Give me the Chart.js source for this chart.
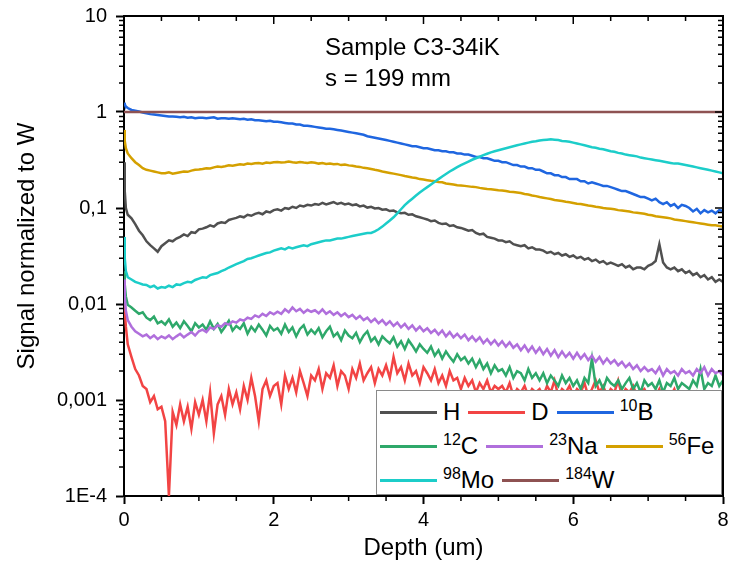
<!DOCTYPE html>
<html>
<head>
<meta charset="utf-8">
<script src="https://cdn.jsdelivr.net/npm/chart.js@4.4.0/dist/chart.umd.min.js"></script>
<style>
  body { margin: 0; background: #fff; }
  #wrap { position: relative; width: 729px; height: 576px; font-family: "Liberation Sans", Arial, sans-serif; color: #000; }
  #note { position: absolute; left: 325px; top: 31px; font-size: 24px; line-height: 31px; }
  #legend { position: absolute; left: 376px; top: 390px; width: 346px; height: 105px; box-sizing: border-box;
            border: 1px solid #8a8a8a; background: #fff; padding: 4px 0 0 3px; font-size: 24px; }
  .row { display: flex; align-items: center; height: 34px; }
  .item { display: flex; align-items: center; margin-right: 8px; white-space: nowrap; }
  .swatch { width: 57px; height: 0; border-top: 3px solid; margin-right: 6px; }
  sup { font-size: 16px; vertical-align: 9px; line-height: 0; }
</style>
</head>
<body>
<div id="wrap">
  <canvas id="chart" width="729" height="576"></canvas>
  <div id="note">Sample C3-34iK<br>s = 199 mm</div>
  <div id="legend"></div>
</div>
<script>
// depth grid (um)
const depth = [0, 0.01, 0.025, 0.05,
  0.1, 0.15, 0.2, 0.25, 0.3, 0.35, 0.4, 0.45, 0.5,
  0.55, 0.6, 0.65, 0.7, 0.75, 0.8, 0.85, 0.9, 0.95, 1,
  1.05, 1.1, 1.15, 1.2, 1.25, 1.3, 1.35, 1.4, 1.45, 1.5,
  1.55, 1.6, 1.65, 1.7, 1.75, 1.8, 1.85, 1.9, 1.95, 2,
  2.05, 2.1, 2.15, 2.2, 2.25, 2.3, 2.35, 2.4, 2.45, 2.5,
  2.55, 2.6, 2.65, 2.7, 2.75, 2.8, 2.85, 2.9, 2.95, 3,
  3.05, 3.1, 3.15, 3.2, 3.25, 3.3, 3.35, 3.4, 3.45, 3.5,
  3.55, 3.6, 3.65, 3.7, 3.75, 3.8, 3.85, 3.9, 3.95, 4,
  4.05, 4.1, 4.15, 4.2, 4.25, 4.3, 4.35, 4.4, 4.45, 4.5,
  4.55, 4.6, 4.65, 4.7, 4.75, 4.8, 4.85, 4.9, 4.95, 5,
  5.05, 5.1, 5.15, 5.2, 5.25, 5.3, 5.35, 5.4, 5.45, 5.5,
  5.55, 5.6, 5.65, 5.7, 5.75, 5.8, 5.85, 5.9, 5.95, 6,
  6.05, 6.1, 6.15, 6.2, 6.25, 6.3, 6.35, 6.4, 6.45, 6.5,
  6.55, 6.6, 6.65, 6.7, 6.75, 6.8, 6.85, 6.9, 6.95, 7,
  7.05, 7.1, 7.15, 7.2, 7.25, 7.3, 7.35, 7.4, 7.45, 7.5,
  7.55, 7.6, 7.65, 7.7, 7.75, 7.8, 7.85, 7.9, 7.95, 8];

const hValues = [0.3, 0.15, 0.1, 0.085,
  0.078, 0.068, 0.058, 0.052, 0.045, 0.041, 0.038, 0.035, 0.04,
  0.043, 0.046, 0.045, 0.048, 0.05, 0.053, 0.051, 0.056, 0.055, 0.06,
  0.061, 0.063, 0.066, 0.064, 0.069, 0.071, 0.07, 0.075, 0.077, 0.079,
  0.082, 0.08, 0.085, 0.083, 0.087, 0.089, 0.086, 0.092, 0.09, 0.095,
  0.097, 0.094, 0.1, 0.098, 0.103, 0.1, 0.106, 0.104, 0.108, 0.106,
  0.11, 0.108, 0.113, 0.109, 0.112, 0.115, 0.11, 0.113, 0.109, 0.111,
  0.107, 0.109, 0.104, 0.106, 0.101, 0.103, 0.099, 0.1, 0.096, 0.097,
  0.093, 0.094, 0.09, 0.088, 0.089, 0.085, 0.086, 0.082, 0.08, 0.078,
  0.076, 0.073, 0.074, 0.07, 0.068, 0.069, 0.065, 0.066, 0.063, 0.062,
  0.06, 0.058, 0.059, 0.055, 0.053, 0.054, 0.05, 0.049, 0.048, 0.046,
  0.046, 0.044, 0.045, 0.042, 0.041, 0.04, 0.041, 0.038, 0.039, 0.037,
  0.037, 0.036, 0.034, 0.035, 0.033, 0.034, 0.032, 0.033, 0.031, 0.032,
  0.03, 0.031, 0.029, 0.03, 0.028, 0.029, 0.027, 0.028, 0.026, 0.027,
  0.026, 0.025, 0.026, 0.024, 0.025, 0.023, 0.024, 0.024, 0.023, 0.025,
  0.026, 0.028, 0.042, 0.027, 0.024, 0.023, 0.024, 0.022, 0.023, 0.021,
  0.022, 0.02, 0.021, 0.019, 0.02, 0.018, 0.019, 0.017, 0.018, 0.017];

const dValues = [0.012, 0.0085, 0.0058, 0.0038,
  0.0028, 0.0021, 0.0018, 0.0014, 0.0013, 0.00095, 0.0011, 0.0008, 0.00085,
  0.0006, 0.0001, 0.00075, 0.00055, 0.0009, 0.0006, 0.00085, 0.0005, 0.00095, 0.0007,
  0.001, 0.0006, 0.0012, 0.00045, 0.0009, 0.0011, 0.0007, 0.0013, 0.0009, 0.0012,
  0.0008, 0.0014, 0.001, 0.0017, 0.0011, 0.0006, 0.0013, 0.0016, 0.0011, 0.0014,
  0.0015, 0.0009, 0.0018, 0.0013, 0.0017, 0.0012, 0.002, 0.0015, 0.0011, 0.0018,
  0.0016, 0.0021, 0.0013, 0.0019, 0.0017, 0.0023, 0.0014, 0.002, 0.0018, 0.0013,
  0.0021, 0.0017, 0.0024, 0.0016, 0.0019, 0.0022, 0.0015, 0.0021, 0.0018, 0.0023,
  0.0017, 0.0028, 0.0019, 0.0022, 0.0016, 0.0024, 0.0018, 0.002, 0.0015, 0.0022,
  0.0019, 0.0016, 0.0021, 0.0015, 0.0018, 0.0014, 0.002, 0.0016, 0.0017, 0.0013,
  0.0017, 0.0014, 0.0016, 0.0012, 0.0015, 0.0013, 0.0016, 0.0012, 0.0014, 0.0013,
  0.0014, 0.0012, 0.0015, 0.0011, 0.0013, 0.0012, 0.0014, 0.0011, 0.0013, 0.0012,
  0.0013, 0.0011, 0.0014, 0.0012, 0.0016, 0.0011, 0.0013, 0.0012, 0.0014, 0.0011,
  0.0013, 0.0012, 0.0015, 0.0011, 0.0013, 0.0016, 0.0012, 0.0014, 0.0011, 0.0013,
  0.0012, 0.0016, 0.0011, 0.0013, 0.0012, 0.0014, 0.0011, 0.0012, 0.0013, 0.0011,
  0.0012, 0.0011, 0.0013, 0.001, 0.0012, 0.0011, 0.0013, 0.001, 0.0012, 0.0011,
  0.0011, 0.001, 0.0012, 0.001, 0.0011, 0.0009, 0.0011, 0.001, 0.0011, 0.001];

const bValues = [1.25, 1.2, 1.14, 1.1,
  1.05, 1.03, 1.01, 0.99, 0.97, 0.95, 0.94, 0.93, 0.92,
  0.91, 0.9, 0.9, 0.89, 0.88, 0.89, 0.87, 0.88, 0.86, 0.87,
  0.87, 0.86, 0.87, 0.88, 0.85, 0.86, 0.86, 0.85, 0.86, 0.85,
  0.84, 0.85, 0.83, 0.84, 0.82, 0.82, 0.81, 0.8, 0.81, 0.79,
  0.79, 0.78, 0.77, 0.76, 0.76, 0.74, 0.74, 0.72, 0.72, 0.71,
  0.7, 0.69, 0.68, 0.67, 0.67, 0.66, 0.65, 0.64, 0.63, 0.62,
  0.61, 0.6, 0.59, 0.58, 0.56, 0.55, 0.54, 0.53, 0.52, 0.51,
  0.5, 0.49, 0.48, 0.47, 0.46, 0.45, 0.44, 0.44, 0.43, 0.42,
  0.42, 0.41, 0.4, 0.4, 0.39, 0.39, 0.38, 0.38, 0.37, 0.37,
  0.36, 0.36, 0.35, 0.34, 0.34, 0.33, 0.33, 0.32, 0.31, 0.31,
  0.3, 0.3, 0.29, 0.28, 0.28, 0.27, 0.27, 0.26, 0.26, 0.25,
  0.25, 0.24, 0.23, 0.23, 0.22, 0.22, 0.21, 0.21, 0.2, 0.2,
  0.2, 0.19, 0.19, 0.18, 0.185, 0.18, 0.175, 0.17, 0.17, 0.165,
  0.16, 0.155, 0.15, 0.15, 0.145, 0.14, 0.135, 0.13, 0.13, 0.125,
  0.12, 0.125, 0.115, 0.11, 0.115, 0.105, 0.11, 0.1, 0.108, 0.105,
  0.1, 0.092, 0.098, 0.088, 0.095, 0.09, 0.094, 0.088, 0.095, 0.093];

const cValues = [0.022, 0.016, 0.012, 0.0098,
  0.0092, 0.0085, 0.0079, 0.0082, 0.0072, 0.0068, 0.0074, 0.0063, 0.0066,
  0.0061, 0.0069, 0.0058, 0.0064, 0.0056, 0.0066, 0.0059, 0.0052, 0.0063, 0.0057,
  0.0061, 0.0054, 0.0066, 0.0055, 0.0062, 0.0051, 0.0058, 0.0067, 0.0053, 0.0059,
  0.0055, 0.0063, 0.0049, 0.0058, 0.0052, 0.0061, 0.0054, 0.0047, 0.0059, 0.0053,
  0.0056, 0.0049, 0.0061, 0.0051, 0.0057, 0.0046, 0.0055, 0.006, 0.0048, 0.0054,
  0.0049, 0.0056, 0.0045, 0.0052, 0.0058, 0.0046, 0.005, 0.0042, 0.0053, 0.0047,
  0.0044, 0.005, 0.004, 0.0047, 0.0052, 0.0041, 0.0045, 0.0038, 0.0046, 0.0042,
  0.0039, 0.0045, 0.0036, 0.0041, 0.0034, 0.0042, 0.0037, 0.0032, 0.0038, 0.0034,
  0.0031, 0.0036, 0.0029, 0.0033, 0.0027, 0.0032, 0.0028, 0.0025, 0.003, 0.0026,
  0.0028, 0.0024, 0.0027, 0.0022, 0.0026, 0.0021, 0.0024, 0.0019, 0.0023, 0.002,
  0.0021, 0.0018, 0.0022, 0.0017, 0.002, 0.0019, 0.0016, 0.0021, 0.0017, 0.0019,
  0.0016, 0.0019, 0.0015, 0.0018, 0.0016, 0.0014, 0.0018, 0.0015, 0.0017, 0.0014,
  0.0016, 0.0013, 0.0017, 0.0015, 0.0027, 0.0014, 0.0016, 0.0013, 0.0017, 0.0015,
  0.0014, 0.0016, 0.0013, 0.0015, 0.0017, 0.0013, 0.0015, 0.0012, 0.0016, 0.0014,
  0.0015, 0.0013, 0.0016, 0.0012, 0.0015, 0.0014, 0.0017, 0.0013, 0.0015, 0.0014,
  0.0013, 0.0016, 0.0014, 0.0021, 0.0013, 0.0015, 0.0014, 0.0018, 0.0014, 0.0016];

const naValues = [0.018, 0.012, 0.0085, 0.0068,
  0.0058, 0.0052, 0.0049, 0.0046, 0.0048, 0.0044, 0.0047, 0.0043, 0.0046,
  0.0044, 0.0047, 0.0043, 0.0046, 0.0049, 0.0045, 0.0048, 0.0051, 0.0047, 0.0052,
  0.0054, 0.0051, 0.0057, 0.0055, 0.006, 0.0058, 0.0063, 0.0061, 0.0066, 0.0064,
  0.0069, 0.0067, 0.0072, 0.007, 0.0076, 0.0073, 0.0079, 0.0075, 0.0082, 0.0078,
  0.0083, 0.0079, 0.0088, 0.0082, 0.0092, 0.0084, 0.0089, 0.0081, 0.0087, 0.0083,
  0.0086, 0.008, 0.0088, 0.0079, 0.0084, 0.0077, 0.0082, 0.0075, 0.008, 0.0073,
  0.0077, 0.007, 0.0075, 0.0068, 0.0072, 0.0065, 0.007, 0.0063, 0.0068, 0.0061,
  0.0066, 0.0059, 0.0064, 0.0057, 0.0062, 0.0055, 0.006, 0.0053, 0.0058, 0.0052,
  0.0056, 0.005, 0.0054, 0.0048, 0.0053, 0.0046, 0.0051, 0.0045, 0.0049, 0.0044,
  0.0048, 0.0042, 0.0046, 0.0041, 0.0045, 0.0039, 0.0043, 0.0038, 0.0042, 0.0037,
  0.0041, 0.0036, 0.004, 0.0035, 0.0038, 0.0033, 0.0037, 0.0032, 0.0036, 0.0031,
  0.0035, 0.003, 0.0034, 0.0029, 0.0033, 0.0028, 0.0032, 0.0028, 0.0031, 0.0027,
  0.0031, 0.0027, 0.003, 0.0026, 0.0029, 0.0025, 0.0028, 0.0024, 0.0027, 0.0024,
  0.0026, 0.0023, 0.0025, 0.0022, 0.0024, 0.0021, 0.0023, 0.002, 0.0022, 0.002,
  0.0021, 0.0019, 0.0022, 0.0018, 0.0021, 0.0019, 0.002, 0.0018, 0.0021, 0.0019,
  0.002, 0.0018, 0.0021, 0.0019, 0.0022, 0.0018, 0.0021, 0.0019, 0.002, 0.0018];

const feValues = [0.65, 0.5, 0.42, 0.37,
  0.33, 0.3, 0.28, 0.26, 0.25, 0.245, 0.24, 0.235, 0.23,
  0.23, 0.235, 0.228, 0.232, 0.236, 0.24, 0.238, 0.245, 0.25, 0.252,
  0.255, 0.26, 0.258, 0.265, 0.27, 0.268, 0.272, 0.278, 0.275, 0.28,
  0.285, 0.282, 0.29, 0.288, 0.292, 0.295, 0.29, 0.298, 0.295, 0.3,
  0.302, 0.298, 0.3, 0.305, 0.3, 0.296, 0.302, 0.298, 0.295, 0.3,
  0.296, 0.29, 0.294, 0.288, 0.29, 0.285, 0.288, 0.28, 0.284, 0.278,
  0.276, 0.27, 0.268, 0.262, 0.26, 0.255, 0.25, 0.246, 0.24, 0.236,
  0.232, 0.228, 0.224, 0.22, 0.215, 0.212, 0.208, 0.205, 0.2, 0.198,
  0.195, 0.192, 0.19, 0.186, 0.185, 0.18, 0.178, 0.176, 0.173, 0.172,
  0.17, 0.168, 0.166, 0.165, 0.162, 0.16, 0.158, 0.157, 0.155, 0.153,
  0.152, 0.15, 0.148, 0.147, 0.145, 0.143, 0.14, 0.138, 0.135, 0.133,
  0.13, 0.128, 0.126, 0.124, 0.121, 0.12, 0.118, 0.116, 0.115, 0.113,
  0.111, 0.11, 0.108, 0.106, 0.105, 0.103, 0.102, 0.1, 0.099, 0.098,
  0.097, 0.095, 0.094, 0.093, 0.092, 0.09, 0.089, 0.088, 0.087, 0.085,
  0.084, 0.082, 0.081, 0.08, 0.079, 0.078, 0.076, 0.075, 0.074, 0.073,
  0.072, 0.071, 0.07, 0.069, 0.068, 0.067, 0.066, 0.066, 0.065, 0.064];

const moValues = [0.05, 0.03, 0.022, 0.019,
  0.018, 0.017, 0.0165, 0.016, 0.0158, 0.015, 0.0155, 0.0145, 0.015,
  0.0148, 0.0155, 0.015, 0.016, 0.0158, 0.0165, 0.017, 0.0168, 0.0178, 0.0184,
  0.019, 0.0188, 0.02, 0.0205, 0.021, 0.022, 0.0228, 0.024, 0.025, 0.026,
  0.027, 0.028, 0.0295, 0.03, 0.031, 0.032, 0.033, 0.034, 0.0345, 0.036,
  0.037, 0.038, 0.037, 0.039, 0.038, 0.039, 0.04, 0.041, 0.04, 0.042,
  0.043, 0.044, 0.045, 0.046, 0.046, 0.047, 0.048, 0.048, 0.049, 0.05,
  0.051, 0.052, 0.053, 0.054, 0.055, 0.055, 0.057, 0.06, 0.064, 0.069,
  0.074, 0.08, 0.088, 0.097, 0.107, 0.116, 0.125, 0.135, 0.145, 0.155,
  0.165, 0.176, 0.188, 0.2, 0.213, 0.226, 0.24, 0.253, 0.266, 0.28,
  0.292, 0.305, 0.318, 0.33, 0.342, 0.355, 0.367, 0.38, 0.39, 0.4,
  0.41, 0.42, 0.43, 0.44, 0.45, 0.46, 0.47, 0.48, 0.49, 0.495,
  0.505, 0.51, 0.515, 0.52, 0.515, 0.51, 0.5, 0.495, 0.49, 0.48,
  0.47, 0.46, 0.45, 0.44, 0.43, 0.425, 0.415, 0.41, 0.4, 0.39,
  0.385, 0.375, 0.37, 0.36, 0.355, 0.35, 0.345, 0.335, 0.33, 0.325,
  0.32, 0.315, 0.31, 0.305, 0.3, 0.295, 0.29, 0.29, 0.285, 0.28,
  0.275, 0.27, 0.265, 0.26, 0.255, 0.25, 0.245, 0.24, 0.235, 0.23];

// W is the reference: flat at 1
const wDepth = [0, 8];
const wValues = [1, 1];

const massNumbers = ['', '', '10', '12', '23', '56', '98', '184'];
const elements = ['H', 'D', 'B', 'C', 'Na', 'Fe', 'Mo', 'W'];
const colors = ['#505050', '#f24444', '#1f66e0', '#2ea86a', '#b06fdc', '#d4a000', '#1ccdc9', '#8e5252'];
const legendRows = [[0, 1, 2], [3, 4, 5], [6, 7]];

const xTickLabels = [0, 2, 4, 6, 8];
const yDecades = [1e-4, 1e-3, 0.01, 0.1, 1, 10];
const yTickLabels = ['1E-4', '0,001', '0,01', '0,1', '1', '10'];

const seriesX = [depth, depth, depth, depth, depth, depth, depth, wDepth];
const seriesY = [hValues, dValues, bValues, cValues, naValues, feValues, moValues, wValues];

const isDecade = v => Math.abs(Math.log10(v) - Math.round(Math.log10(v))) < 1e-6;

const datasets = seriesY.map((vals, i) => ({
  label: massNumbers[i] + elements[i],
  data: vals.map((v, k) => ({ x: seriesX[i][k], y: v })),
  borderColor: colors[i],
  backgroundColor: colors[i],
  borderWidth: 2.5,
  pointRadius: 0,
  tension: 0,
  order: seriesY.length - i
}));

const font = "'Liberation Sans', Arial, sans-serif";

// drop the extra room chart.js keeps for edge labels, the plot box is fixed by layout.padding
const noEdgePadding = s => {
  s.paddingTop = 0;
  s.paddingBottom = 0;
  s.paddingLeft = 0;
  s.paddingRight = 0;
};

const frame = {
  id: 'frame',
  afterDatasetsDraw(chart) {
    const { ctx, chartArea: a, scales: { x, y } } = chart;
    ctx.save();
    ctx.strokeStyle = '#000';
    ctx.lineWidth = 2;
    ctx.beginPath();
    ctx.moveTo(a.left - 1, a.top);
    ctx.lineTo(a.right, a.top);
    ctx.lineTo(a.right, a.bottom + 1);
    ctx.stroke();
    ctx.lineWidth = 1.5;
    ctx.beginPath();
    x.ticks.forEach(t => {
      const px = x.getPixelForValue(t.value);
      const major = xTickLabels.includes(t.value);
      const len = major ? 8 : 5;
      ctx.moveTo(px, a.top);
      ctx.lineTo(px, a.top + len);
      if (!major) {
        ctx.moveTo(px, a.bottom);
        ctx.lineTo(px, a.bottom + len);
      }
    });
    y.ticks.forEach(t => {
      const py = y.getPixelForValue(t.value);
      const major = isDecade(t.value);
      const len = major ? 8 : 5;
      ctx.moveTo(a.right, py);
      ctx.lineTo(a.right - len, py);
      if (!major) {
        ctx.moveTo(a.left, py);
        ctx.lineTo(a.left - len, py);
      }
    });
    ctx.stroke();
    ctx.restore();
  }
};

new Chart(document.getElementById('chart'), {
  type: 'line',
  data: { datasets },
  options: {
    responsive: false,
    animation: false,
    layout: { padding: { top: 16, right: 6, left: 0, bottom: 0 } },
    plugins: { legend: { display: false }, tooltip: { enabled: false } },
    scales: {
      x: {
        type: 'linear',
        min: 0,
        max: 8,
        afterFit: s => { s.height = 80; noEdgePadding(s); },
        ticks: {
          stepSize: 0.5,
          autoSkip: false,
          maxRotation: 0,
          padding: 4,
          color: '#000',
          font: { family: font, size: 20 },
          callback: v => xTickLabels.includes(v) ? String(v) : ''
        },
        grid: {
          drawOnChartArea: false,
          tickLength: 8,
          tickWidth: 2,
          tickColor: c => (c.tick && xTickLabels.includes(c.tick.value)) ? '#000' : 'rgba(0,0,0,0)'
        },
        border: { color: '#000', width: 2 },
        title: {
          display: true,
          text: 'Depth (um)',
          color: '#000',
          font: { family: font, size: 24 },
          padding: { top: 0, bottom: 13 }
        }
      },
      y: {
        type: 'logarithmic',
        min: 1e-4,
        max: 10,
        afterFit: s => { s.width = 124; noEdgePadding(s); },
        afterBuildTicks: s => {
          const t = [];
          yDecades.forEach((d, i) => {
            t.push({ value: d, major: true });
            if (i < yDecades.length - 1) {
              for (let k = 2; k <= 9; k++) t.push({ value: d * k });
            }
          });
          s.ticks = t;
        },
        ticks: {
          autoSkip: false,
          padding: 9,
          color: '#000',
          font: { family: font, size: 20 },
          callback: v => {
            const i = yDecades.findIndex(d => Math.abs(d - v) / d < 1e-6);
            return i >= 0 ? yTickLabels[i] : '';
          }
        },
        grid: {
          drawOnChartArea: false,
          tickLength: 8,
          tickWidth: 2,
          tickColor: c => (c.tick && isDecade(c.tick.value)) ? '#000' : 'rgba(0,0,0,0)'
        },
        border: { color: '#000', width: 2 },
        title: {
          display: true,
          // leading spaces lift the title a little above the axis centre, as in the original
          text: '   Signal normalized to W',
          color: '#000',
          font: { family: font, size: 24 },
          padding: { top: 13, bottom: 0 }
        }
      }
    }
  },
  plugins: [frame]
});

// legend box, same look as the original
const legend = document.getElementById('legend');
legendRows.forEach(row => {
  const r = document.createElement('div');
  r.className = 'row';
  row.forEach(i => {
    const item = document.createElement('div');
    item.className = 'item';
    const sw = document.createElement('span');
    sw.className = 'swatch';
    sw.style.borderTopColor = colors[i];
    const lab = document.createElement('span');
    lab.innerHTML = (massNumbers[i] ? '<sup>' + massNumbers[i] + '</sup>' : '') + elements[i];
    item.appendChild(sw);
    item.appendChild(lab);
    r.appendChild(item);
  });
  legend.appendChild(r);
});
</script>
</body>
</html>
